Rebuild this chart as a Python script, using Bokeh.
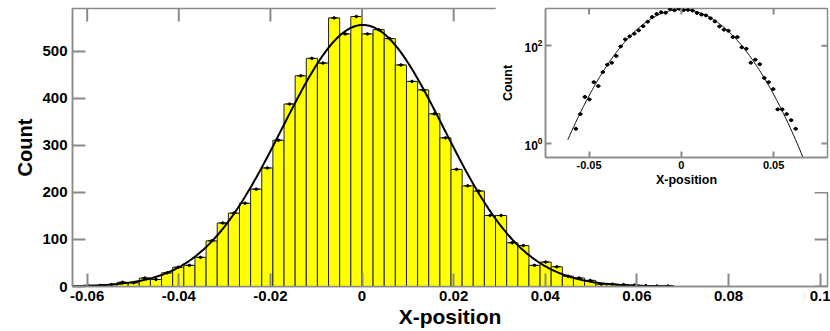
import numpy as np
from bokeh.plotting import figure
from bokeh.models import (ColumnDataSource, FixedTicker, CustomJSTickFormatter,
                          Range1d, GridBox)
from bokeh.embed import file_html
from bokeh.resources import INLINE

# ---------------- data ----------------
bin_start = -0.0632
bin_width = 0.00243
counts = [0, 1, 2, 4, 9, 8, 18, 15, 29, 41,
          45, 62, 97, 135, 156, 177, 207, 252, 311, 388,
          448, 485, 475, 571, 537, 574, 537, 546, 527, 471,
          436, 418, 367, 316, 249, 214, 203, 151, 151, 93,
          87, 45, 52, 42, 22, 18, 13, 5, 5, 4,
          3, 2, 1, 1]
fit_amplitude = 556.0
fit_mean = 0.0002
fit_sigma = 0.0176

x_ticks = [-0.06, -0.04, -0.02, 0, 0.02, 0.04, 0.06, 0.08, 0.1]
y_ticks = [0, 100, 200, 300, 400, 500]
inset_x_ticks = [-0.05, 0, 0.05]
inset_y_ticks = [1, 100]

# ---------------- derived ----------------
n = len(counts)
left = np.array([bin_start + i * bin_width for i in range(n)])
right = left + bin_width
center = left + bin_width / 2
cnt = np.array(counts, dtype=float)
src = ColumnDataSource(dict(left=left, right=right, center=center, top=cnt))

xc = np.linspace(bin_start, bin_start + n * bin_width, 400)
yc = fit_amplitude * np.exp(-(xc - fit_mean) ** 2 / (2 * fit_sigma ** 2))

FONT = "Liberation Sans"
GRAY = "#8a8a8a"
fmt = CustomJSTickFormatter(code="return String(tick)")

MX = (-0.0632, 0.1016)
MY = (0, 591)
IX = (-0.0736, 0.0792)
IY = (0.517, 580)

# ---------------- main figure ----------------
p = figure(width=830, height=331, output_backend="svg", toolbar_location=None,
           x_range=Range1d(*MX), y_range=Range1d(*MY),
           min_border_left=72, min_border_right=2, min_border_top=8,
           min_border_bottom=45)
p.background_fill_color = "white"
p.border_fill_color = "white"
p.outline_line_color = GRAY
p.outline_line_width = 1.5
p.xgrid.visible = False
p.ygrid.visible = False

p.quad(left="left", right="right", top="top", bottom=0, source=src,
       fill_color="#FFFF00", line_color="#222222", line_width=1)
p.line(xc, yc, line_color="black", line_width=2)
p.scatter("center", "top", source=src, marker="dash", size=7,
          line_color="black", line_width=1)
p.scatter("center", "top", source=src, marker="circle", size=2.5,
          fill_color="black", line_color="black")

# tick marks on the top and right edges (half of each dash is clipped by the frame)
p.scatter(x_ticks, [MY[1]] * len(x_ticks), marker="dash", angle=np.pi / 2,
          size=26, line_color=GRAY, line_width=2)
p.scatter([MX[1]] * len(y_ticks), y_ticks, marker="dash",
          size=26, line_color=GRAY, line_width=2)


def style_axis(ax, tick_len, size):
    ax.axis_line_color = GRAY
    ax.axis_line_width = 1.5
    ax.major_tick_in = tick_len
    ax.major_tick_out = 0
    ax.major_tick_line_color = GRAY
    ax.major_tick_line_width = 2
    ax.minor_tick_line_color = None
    ax.major_label_text_font = FONT
    ax.major_label_text_font_style = "bold"
    ax.major_label_text_color = "black"
    ax.major_label_text_font_size = size
    ax.axis_label_text_font = FONT
    ax.axis_label_text_font_style = "bold"
    ax.axis_label_text_color = "black"


xa = p.xaxis[0]
xa.ticker = FixedTicker(ticks=x_ticks)
xa.formatter = fmt
style_axis(xa, 13, "15px")
xa.major_label_standoff = 4
xa.axis_label = "X-position"
xa.axis_label_text_font_size = "21px"
xa.axis_label_standoff = 1

ya = p.yaxis[0]
ya.ticker = FixedTicker(ticks=y_ticks)
style_axis(ya, 13, "15px")
ya.major_label_standoff = 5
ya.axis_label = "Count"
ya.axis_label_text_font_size = "20px"
ya.axis_label_standoff = 3

# ---------------- inset ----------------
mask = cnt >= 2
isrc = ColumnDataSource(dict(left=left[mask], right=right[mask],
                             center=center[mask], top=cnt[mask]))
inset = figure(width=335, height=192, output_backend="svg", toolbar_location=None,
               x_range=Range1d(*IX), y_range=Range1d(*IY),
               y_axis_type="log",
               min_border_left=50, min_border_right=3, min_border_top=8,
               min_border_bottom=35)
inset.background_fill_color = "white"
inset.border_fill_color = "white"
inset.outline_line_color = GRAY
inset.outline_line_width = 1.5
inset.xgrid.visible = False
inset.ygrid.visible = False

xci = np.linspace(-0.0615, bin_start + n * bin_width, 400)
yci = fit_amplitude * np.exp(-(xci - fit_mean) ** 2 / (2 * fit_sigma ** 2))
inset.line(xci, yci, line_color="black", line_width=1)
inset.segment(x0="left", x1="right", y0="top", y1="top", source=isrc,
              line_color="black", line_width=1.2)
inset.scatter("center", "top", source=isrc, marker="circle", size=3,
              fill_color="black", line_color="black")

inset.scatter(inset_x_ticks, [IY[1]] * len(inset_x_ticks), marker="dash",
              angle=np.pi / 2, size=12, line_color=GRAY, line_width=2)
inset.scatter([IX[1]] * len(inset_y_ticks), inset_y_ticks, marker="dash",
              size=12, line_color=GRAY, line_width=2)

ixa = inset.xaxis[0]
ixa.ticker = FixedTicker(ticks=inset_x_ticks)
ixa.formatter = fmt
style_axis(ixa, 6, "11px")
ixa.major_label_standoff = 3
ixa.axis_label = "X-position"
ixa.axis_label_text_font_size = "12.5px"
ixa.axis_label_standoff = 1

iya = inset.yaxis[0]
iya.ticker = FixedTicker(ticks=inset_y_ticks)
style_axis(iya, 6, "12px")
iya.major_label_standoff = 3
iya.axis_label = "Count"
iya.axis_label_text_font_size = "12.5px"
iya.axis_label_standoff = 6

# ---------------- layout (inset overlapping main) ----------------
grid = GridBox(children=[(p, 0, 0, 2, 2), (inset, 0, 1, 1, 1)],
               rows=["192px", "139px"], cols=["495px", "335px"], spacing=0)

open("out.html", "w").write(file_html(grid, INLINE))
